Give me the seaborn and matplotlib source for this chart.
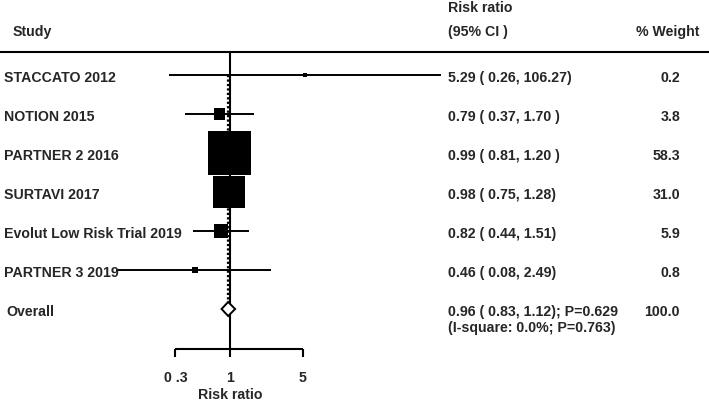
import numpy as np
import pandas as pd
import matplotlib
matplotlib.use("Agg")
import matplotlib.pyplot as plt
import matplotlib.transforms as mtransforms
import seaborn as sns

studies = ["STACCATO 2012", "NOTION 2015", "PARTNER 2 2016", "SURTAVI 2017",
           "Evolut Low Risk Trial 2019", "PARTNER 3 2019"]
rr = [5.29, 0.79, 0.99, 0.98, 0.82, 0.46]
lo = [0.26, 0.37, 0.81, 0.75, 0.44, 0.08]
hi = [106.27, 1.70, 1.20, 1.28, 1.51, 2.49]
weight = [0.2, 3.8, 58.3, 31.0, 5.9, 0.8]
ci_labels = ["5.29 ( 0.26, 106.27)", "0.79 ( 0.37, 1.70 )", "0.99 ( 0.81, 1.20 )",
             "0.98 ( 0.75, 1.28)", "0.82 ( 0.44, 1.51)", "0.46 ( 0.08, 2.49)"]
weight_labels = ["0.2", "3.8", "58.3", "31.0", "5.9", "0.8"]
overall_rr, overall_lo, overall_hi = 0.96, 0.83, 1.12
overall_label = "0.96 ( 0.83, 1.12); P=0.629"
overall_het = "(I-square: 0.0%; P=0.763)"
overall_weight = "100.0"
ticks = [0.3, 1, 5]
tick_labels = ["0 .3", "1", "5"]

sns.set_style("white")
plt.rcParams["font.family"] = ["Liberation Sans", "DejaVu Sans"]
plt.rcParams["font.weight"] = "bold"

W, H = 709, 401
fig = plt.figure(figsize=(W / 100, H / 100), dpi=100)
ax = fig.add_axes([0, 0, 1, 1])
ax.set_xscale("log")
k = 45.3  # px per ln unit
x0 = 230
y0, dy = 75, 39
xlim = (np.exp(-x0 / k), np.exp((W - x0) / k))
ylim = ((H - y0) / dy, -y0 / dy)
ax.set_xlim(*xlim)
ax.set_ylim(*ylim)

def ry(px):
    return (px - y0) / dy

toff = 3 / dy  # text sits slightly below the marks
df = pd.DataFrame({"study": studies, "rr": rr, "lo": lo, "hi": hi,
                   "weight": weight, "row": np.arange(len(studies))})
n = len(studies)

# CI lines
ax.hlines(df["row"], df["lo"], df["hi"], color="black", lw=1.4, zorder=2)
# null line
ax.vlines(1, ry(52), ry(349), color="black", lw=1.5, zorder=1)
# overall dotted line
dh = 0.18
ax.vlines(overall_rr, 0, n - dh, color="black", lw=1.6,
          linestyles=(0, (1, 1)), zorder=1)
# squares
sns.scatterplot(data=df, x="rr", y="row", size="weight", sizes=(8, 58.3 * 16.5),
                size_norm=(0.2, 58.3), marker="s", color="black", linewidth=0,
                legend=False, ax=ax, zorder=3)
ax.axis("off")
ax.set_xlim(*xlim)
ax.set_ylim(*ylim)
# diamond
ax.fill([overall_lo, overall_rr, overall_hi, overall_rr],
        [n, n - dh, n, n + dh],
        facecolor="white", edgecolor="black", lw=1.4, zorder=4)

# separator
ax.axhline(ry(52), color="black", lw=1.5)

# x axis
ax.hlines(ry(349), ticks[0], ticks[-1], color="black", lw=1.5)
ax.vlines(ticks, ry(349), ry(357), color="black", lw=1.5)
for t, lab in zip(ticks, tick_labels):
    ax.text(t, ry(378), lab, ha="center", va="center", fontsize=10.2, fontweight="bold")
ax.text(1, ry(395), "Risk ratio", ha="center", va="center", fontsize=10.2, fontweight="bold")

tr = mtransforms.blended_transform_factory(ax.transAxes, ax.transData)
fs = 10.2
ax.text(13 / W, ry(32), "Study", transform=tr, ha="left", va="center", fontsize=fs, fontweight="bold")
ax.text(448 / W, ry(8), "Risk ratio", transform=tr, ha="left", va="center", fontsize=fs, fontweight="bold")
ax.text(448 / W, ry(32), "(95% CI )", transform=tr, ha="left", va="center", fontsize=fs, fontweight="bold")
ax.text(699 / W, ry(32), "% Weight", transform=tr, ha="right", va="center", fontsize=fs, fontweight="bold")

for i in range(n):
    ax.text(4 / W, i + toff, studies[i], transform=tr, ha="left", va="center", fontsize=fs, fontweight="bold")
    ax.text(448 / W, i + toff, ci_labels[i], transform=tr, ha="left", va="center", fontsize=fs, fontweight="bold")
    ax.text(680 / W, i + toff, weight_labels[i], transform=tr, ha="right", va="center", fontsize=fs, fontweight="bold")

ax.text(6 / W, n + toff, "Overall", transform=tr, ha="left", va="center", fontsize=fs, fontweight="bold")
ax.text(448 / W, n + toff, overall_label, transform=tr, ha="left", va="center", fontsize=fs, fontweight="bold")
ax.text(448 / W, ry(328), overall_het, transform=tr, ha="left", va="center", fontsize=fs, fontweight="bold")
ax.text(680 / W, n + toff, overall_weight, transform=tr, ha="right", va="center", fontsize=fs, fontweight="bold")

fig.savefig("out.png", dpi=100, facecolor="white")
